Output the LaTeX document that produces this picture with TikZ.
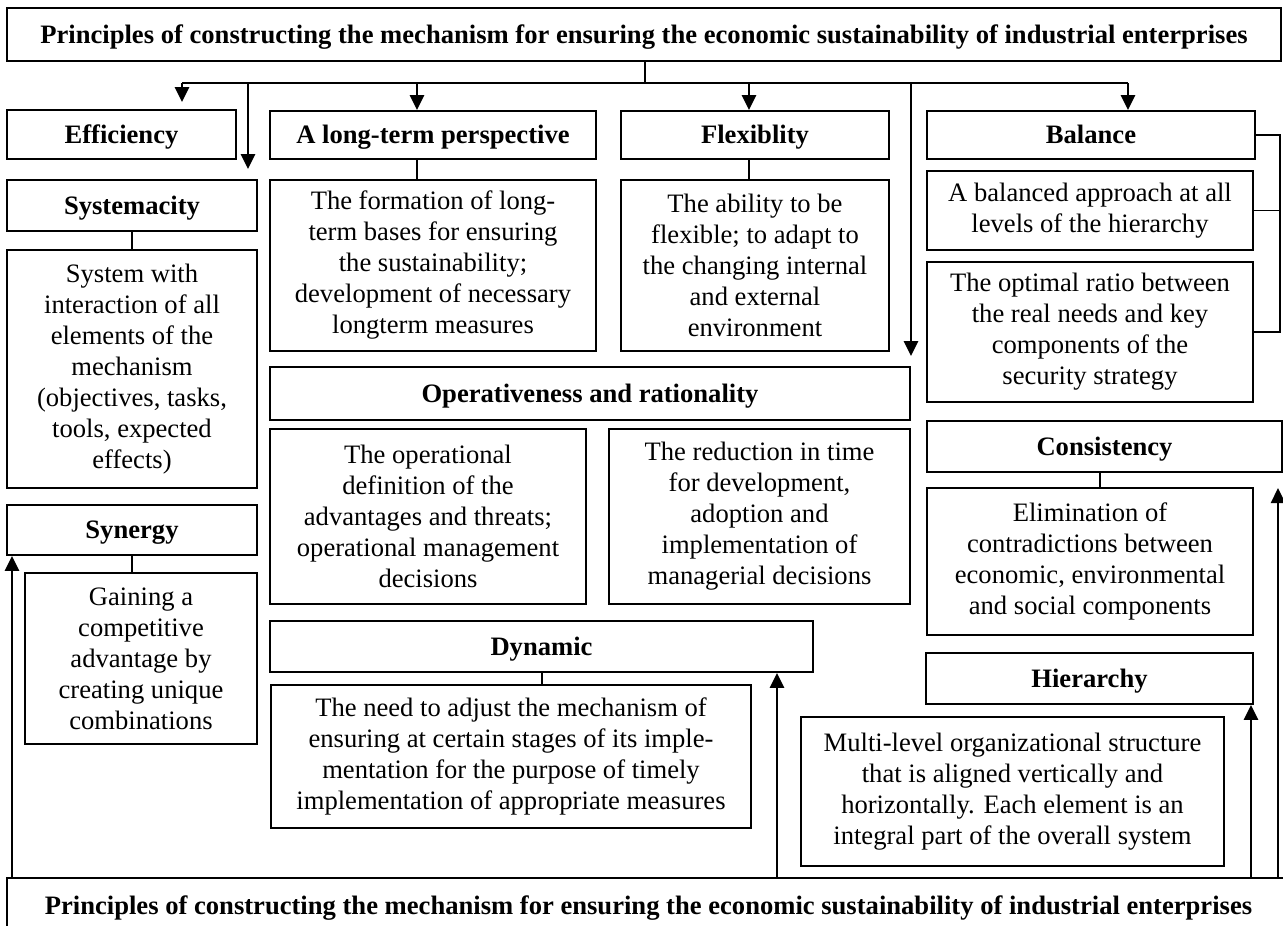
\documentclass[tikz,border=0pt]{standalone}
\usepackage{fontspec}
\setmainfont{Liberation Serif}
\usetikzlibrary{arrows.meta}
\begin{document}
\begin{tikzpicture}[x=1pt,y=-1pt,
  box/.style={draw, line width=1.8pt, rectangle, inner sep=0pt, align=center,
    font=\fontsize{26.6}{31}\selectfont},
  hbox/.style={box, font=\fontsize{26.6}{31}\selectfont\bfseries, text height=21.3pt, text depth=3.7pt},
  arr/.style={line width=2.4pt, -{Triangle[length=15pt,width=14pt]}},
  conn/.style={line width=1.7pt}]
\useasboundingbox (0,0) rectangle (1283,926);
% title boxes
\node[hbox, minimum width=1274, minimum height=53] (top) at (644,34.5)
  {Principles of constructing the mechanism for ensuring the economic sustainability of industrial enterprises};
\begin{scope}
\clip (0,0) rectangle (1283,926);
\node[hbox, minimum width=1283, minimum height=56] (bot) at (648.5,906)
  {Principles of constructing the mechanism for ensuring the economic sustainability of industrial enterprises};
\end{scope}
% left column
\node[hbox, minimum width=229, minimum height=49] (eff) at (121.5,134.5) {Efficiency};
\node[hbox, minimum width=250, minimum height=51] (sysh) at (132,205.5) {Systemacity};
\node[box, minimum width=250, minimum height=238] (sysb) at (132,369)
  {System with\\interaction of all\\elements of the\\mechanism\\(objectives, tasks,\\tools, expected\\effects)};
\node[hbox, minimum width=250, minimum height=50] (syn) at (132,530) {Synergy};
\node[box, minimum width=232, minimum height=171] (gain) at (141,658.5)
  {Gaining a\\competitive\\advantage by\\creating unique\\combinations};
% middle
\node[hbox, minimum width=326, minimum height=48] (lth) at (433,135) {A long-term perspective};
\node[box, minimum width=326, minimum height=171] (ltb) at (433,265.5)
  {The formation of long-\\term bases for ensuring\\the sustainability;\\development of necessary\\longterm measures};
\node[hbox, minimum width=268, minimum height=48] (flh) at (755,135) {Flexiblity};
\node[box, minimum width=268, minimum height=171] (flb) at (755,265.5)
  {The ability to be\\flexible; to adapt to\\the changing internal\\and external\\environment};
\node[hbox, minimum width=640, minimum height=53] (oph) at (590,393.5) {Operativeness and rationality};
\node[box, minimum width=316, minimum height=175] (op1) at (428,516.5)
  {The operational\\definition of the\\advantages and threats;\\operational management\\decisions};
\node[box, minimum width=301, minimum height=175] (op2) at (759.5,516.5)
  {The reduction in time\\for development,\\adoption and\\implementation of\\managerial decisions};
\node[hbox, minimum width=543, minimum height=51] (dyh) at (541.5,646.5) {Dynamic};
\node[box, minimum width=480, minimum height=143] (dyb) at (511,756.5)
  {The need to adjust the mechanism of\\ensuring at certain stages of its imple-\\mentation for the purpose of timely\\implementation of appropriate measures};
% right column
\node[hbox, minimum width=328, minimum height=48] (bah) at (1091,135) {Balance};
\node[box, minimum width=326, minimum height=79] (ba1) at (1090,210.5)
  {A balanced approach at all\\levels of the hierarchy};
\node[box, minimum width=326, minimum height=140] (ba2) at (1090,332)
  {The optimal ratio between\\the real needs and key\\components of the\\security strategy};
\node[hbox, minimum width=355, minimum height=51] (coh) at (1104.5,446.5) {Consistency};
\node[box, minimum width=326, minimum height=147] (cob) at (1090,561.5)
  {Elimination of\\contradictions between\\economic, environmental\\and social components};
\node[hbox, minimum width=327, minimum height=51] (hih) at (1089.5,678.5) {Hierarchy};
\node[box, minimum width=423, minimum height=149] (hib) at (1012.5,791.5)
  {Multi-level organizational structure\\that is aligned vertically and\\horizontally. Each element is an\\integral part of the overall system};
% reference coordinates
\coordinate (hub) at (645,83);
\coordinate (hL) at (182,83);
\coordinate (hR) at (1128,83);
\coordinate (x132) at (132,0);
\coordinate (x248) at (248,83);
\coordinate (x417) at (417,83);
\coordinate (x749) at (749,83);
\coordinate (x911) at (911,83);
\coordinate (x542) at (542,0);
\coordinate (x1100) at (1100,0);
\coordinate (x1280) at (1280,0);
\coordinate (x12) at (12,0);
\coordinate (x777) at (777,0);
\coordinate (x1251) at (1251,0);
\coordinate (x1278) at (1278,0);
\coordinate (rtip) at (1278,488);
% top distribution
\draw[conn] (top.south -| hub) -- (hub);
\draw[conn] (hL) -- (hR);
\draw[arr, shorten >=7pt] (hL) -- (hL |- eff.north);
\draw[arr, shorten >=10pt] (x248) -- (x248 |- sysh.north);
\draw[arr] (x417) -- (x417 |- lth.north);
\draw[arr] (x749) -- (x749 |- flh.north);
\draw[arr, shorten >=10pt] (x911) -- (x911 |- oph.north);
\draw[arr] (hR) -- (hR |- bah.north);
% inner connectors
\draw[conn] (x132 |- sysh.south) -- (x132 |- sysb.north);
\draw[conn] (x132 |- syn.south) -- (x132 |- gain.north);
\draw[conn] (x417 |- lth.south) -- (x417 |- ltb.north);
\draw[conn] (x749 |- flh.south) -- (x749 |- flb.north);
\draw[conn] (x542 |- dyh.south) -- (x542 |- dyb.north);
\draw[conn] (x1100 |- coh.south) -- (x1100 |- cob.north);
% balance bracket
\draw[conn] (bah.east) -- (x1280 |- bah.east) -- (x1280 |- ba2.east) -- (ba2.east);
\draw[conn] (ba1.east) -- (x1280 |- ba1.east);
% bottom arrows
\draw[arr] (x12 |- bot.north) -- (x12 |- syn.south);
\draw[arr] (x777 |- bot.north) -- (x777 |- dyh.south);
\draw[arr] (x1251 |- bot.north) -- (x1251 |- hih.south);
\draw[arr] (x1278 |- bot.north) -- (rtip);
\end{tikzpicture}
\end{document}
